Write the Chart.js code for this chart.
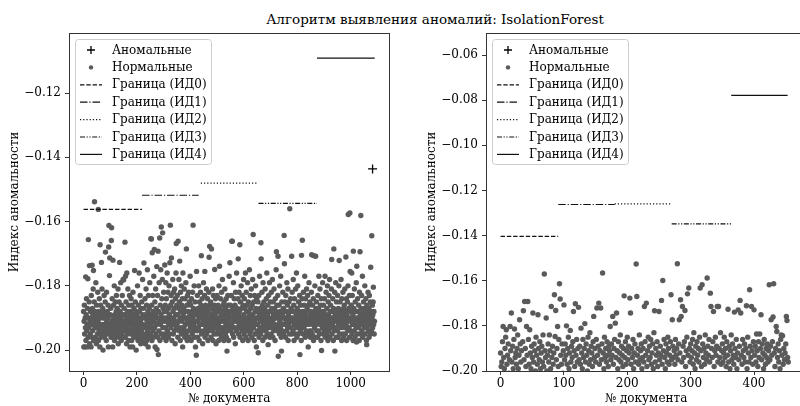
<!DOCTYPE html>
<html>
<head>
<meta charset="utf-8">
<script src="https://cdn.jsdelivr.net/npm/chart.js@4.4.1/dist/chart.umd.min.js"></script>
<style>
  html, body { margin: 0; padding: 0; background: #fff; overflow: hidden; }
  #wrap { position: relative; width: 800px; height: 406px; overflow: hidden; }
  #fig { position: absolute; left: 0; top: 0; width: 870px; height: 406px; }
  #title { position: absolute; left: 0; top: 11px; width: 870px; text-align: center;
           font-family: 'DejaVu Serif'; font-size: 13.5px; line-height: 16px; color: #000; }
  #leftBox { position: absolute; left: 0; top: 0; }
  #rightBox { position: absolute; left: 400px; top: 0; }
</style>
</head>
<body>
<div id="wrap"><div id="fig">
  <div id="title">Алгоритм выявления аномалий: IsolationForest</div>
  <div id="leftBox"><canvas id="leftChart" width="400" height="406"></canvas></div>
  <div id="rightBox"><canvas id="rightChart" width="470" height="406"></canvas></div>
</div></div>
<script>
// --- data: left panel (document index = position in the array) ---
const leftScores = [
-0.188,-0.199,-0.191,-0.186,-0.195,-0.199,-0.190,-0.193,-0.1772,-0.197,-0.189,-0.184,-0.194,-0.192,-0.199,-0.187,-0.1778,-0.196,-0.1656,-0.190,-0.193,-0.185,-0.1737,-0.198,-0.191,
-0.195,-0.188,-0.192,-0.199,-0.183,-0.190,-0.196,-0.1736,-0.187,-0.194,-0.189,-0.181,-0.1752,-0.197,-0.191,-0.185,-0.1538,-0.193,-0.188,-0.196,-0.192,-0.179,-0.190,-0.198,-0.186,
-0.193,-0.189,-0.195,-0.182,-0.191,-0.1562,-0.197,-0.188,-0.194,-0.184,-0.190,-0.199,-0.1672,-0.192,-0.186,-0.196,-0.189,-0.1727,-0.193,-0.181,-0.195,-0.190,-0.187,-0.200,-0.192,
-0.188,-0.194,-0.183,-0.196,-0.190,-0.192,-0.185,-0.1695,-0.193,-0.189,-0.197,-0.182,-0.191,-0.195,-0.188,-0.194,-0.190,-0.186,-0.199,-0.1679,-0.1612,-0.192,-0.1768,-0.1713,-0.195,
-0.189,-0.193,-0.187,-0.196,-0.1659,-0.1619,-0.191,-0.184,-0.194,-0.199,-0.1720,-0.190,-0.186,-0.195,-0.192,-0.180,-0.197,-0.189,-0.193,-0.185,-0.191,-0.196,-0.188,-0.183,-0.194,
-0.190,-0.187,-0.195,-0.192,-0.181,-0.198,-0.189,-0.193,-0.185,-0.196,-0.1727,-0.191,-0.188,-0.194,-0.179,-0.190,-0.197,-0.186,-0.192,-0.195,-0.183,-0.189,-0.193,-0.178,-0.196,
-0.1782,-0.191,-0.187,-0.194,-0.189,-0.1664,-0.196,-0.177,-0.192,-0.185,-0.190,-0.198,-0.176,-0.193,-0.188,-0.195,-0.181,-0.191,-0.197,-0.186,-0.190,-0.194,-0.183,-0.189,-0.199,
-0.192,-0.188,-0.195,-0.184,-0.191,-0.197,-0.186,-0.193,-0.190,-0.199,-0.182,-0.194,-0.189,-0.196,-0.187,-0.192,-0.1752,-0.190,-0.195,-0.185,-0.193,-0.188,-0.200,-0.191,-0.196,
-0.189,-0.194,-0.180,-0.192,-0.197,-0.186,-0.190,-0.195,-0.176,-0.193,-0.188,-0.196,-0.183,-0.191,-0.198,-0.187,-0.194,-0.190,-0.185,-0.197,-0.192,-0.178,-0.189,-0.195,-0.193,
-0.187,-0.1729,-0.196,-0.190,-0.193,-0.184,-0.198,-0.189,-0.195,-0.181,-0.192,-0.186,-0.197,-0.191,-0.175,-0.194,-0.188,-0.199,-0.183,-0.190,-0.196,-0.187,-0.193,-0.179,-0.191,
-0.195,-0.189,-0.1653,-0.192,-0.1654,-0.186,-0.197,-0.1697,-0.190,-0.183,-0.194,-0.188,-0.196,-0.177,-0.191,-0.1687,-0.193,-0.185,-0.199,-0.189,-0.181,-0.195,-0.187,-0.192,-0.174,
-0.1998,-0.190,-0.183,-0.196,-0.1692,-0.2014,-0.188,-0.194,-0.179,-0.191,-0.1651,-0.197,-0.186,-0.192,-0.175,-0.189,-0.1617,-0.195,-0.184,-0.190,-0.178,-0.1635,-0.193,-0.187,-0.196,
-0.182,-0.191,-0.188,-0.195,-0.1735,-0.190,-0.186,-0.193,-0.179,-0.197,-0.184,-0.191,-0.188,-0.176,-0.194,-0.190,-0.182,-0.196,-0.187,-0.192,-0.180,-0.189,-0.195,-0.1728,-0.191,
-0.1611,-0.186,-0.193,-0.183,-0.1713,-0.190,-0.197,-0.185,-0.192,-0.178,-0.188,-0.195,-0.182,-0.190,-0.187,-0.194,-0.181,-0.191,-0.198,-0.184,-0.189,-0.176,-0.1668,-0.193,-0.186,
-0.192,-0.183,-0.189,-0.196,-0.1661,-0.187,-0.191,-0.178,-0.194,-0.185,-0.1723,-0.190,-0.197,-0.182,-0.188,-0.193,-0.180,-0.195,-0.186,-0.191,-0.184,-0.199,-0.1760,-0.189,-0.194,
-0.187,-0.193,-0.181,-0.190,-0.196,-0.184,-0.192,-0.188,-0.179,-0.195,-0.1685,-0.190,-0.186,-0.197,-0.183,-0.191,-0.188,-0.194,-0.182,-0.190,-0.196,-0.185,-0.192,-0.189,-0.177,
-0.193,-0.186,-0.190,-0.197,-0.184,-0.191,-0.188,-0.195,-0.182,-0.190,-0.1611,-0.194,-0.187,-0.192,-0.180,-0.196,-0.189,-0.185,-0.193,-0.199,-0.188,-0.191,-0.2016,-0.1755,-0.194,
-0.189,-0.183,-0.196,-0.191,-0.187,-0.193,-0.180,-0.190,-0.197,-0.185,-0.192,-0.188,-0.194,-0.182,-0.190,-0.186,-0.1706,-0.195,-0.189,-0.184,-0.192,-0.198,-0.187,-0.191,-0.179,
-0.194,-0.188,-0.190,-0.183,-0.1755,-0.196,-0.191,-0.186,-0.193,-0.189,-0.181,-0.195,-0.187,-0.192,-0.184,-0.190,-0.197,-0.188,-0.194,-0.182,-0.1711,-0.191,-0.1677,-0.186,-0.193,
-0.190,-0.185,-0.196,-0.189,-0.1685,-0.192,-0.187,-0.194,-0.181,-0.190,-0.197,-0.183,-0.191,-0.188,-0.195,-0.186,-0.1749,-0.193,-0.189,-0.184,-0.192,-0.198,-0.187,-0.190,-0.195,
-0.183,-0.191,-0.188,-0.194,-0.186,-0.192,-0.197,-0.180,-0.190,-0.1739,-0.193,-0.187,-0.195,-0.184,-0.191,-0.189,-0.196,-0.182,-0.190,-0.193,-0.178,-0.188,-0.194,-0.186,-0.191,
-0.197,-0.185,-0.190,-0.193,-0.181,-0.189,-0.195,-0.187,-0.192,-0.184,-0.196,-0.190,-0.2003,-0.188,-0.194,-0.183,-0.191,-0.186,-0.197,-0.189,-0.177,-0.193,-0.188,-0.1728,-0.192,
-0.186,-0.194,-0.190,-0.183,-0.192,-0.1661,-0.188,-0.1661,-0.195,-0.187,-0.191,-0.179,-0.196,-0.189,-0.184,-0.193,-0.190,-0.186,-0.198,-0.182,-0.191,-0.188,-0.194,-0.176,-0.190,
-0.193,-0.187,-0.191,-0.184,-0.1716,-0.195,-0.189,-0.182,-0.192,-0.188,-0.1672,-0.196,-0.185,-0.190,-0.193,-0.180,-0.191,-0.187,-0.194,-0.183,-0.190,-0.197,-0.186,-0.192,-0.178,
-0.189,-0.195,-0.184,-0.191,-0.187,-0.193,-0.176,-0.190,-0.196,-0.182,-0.188,-0.194,-0.186,-0.192,-0.179,-0.190,-0.197,-0.185,-0.191,-0.188,-0.193,-0.175,-0.189,-0.195,-0.183,
-0.191,-0.187,-0.194,-0.181,-0.190,-0.196,-0.186,-0.192,-0.178,-0.189,-0.1640,-0.193,-0.185,-0.190,-0.197,-0.183,-0.191,-0.188,-0.195,-0.180,-0.192,-0.187,-0.199,-0.184,-0.190,
-0.194,-0.188,-0.192,-0.185,-0.2008,-0.190,-0.183,-0.196,-0.189,-0.177,-0.193,-0.187,-0.191,-0.195,-0.1666,-0.1716,-0.188,-0.194,-0.182,-0.190,-0.186,-0.197,-0.179,-0.192,-0.189,
-0.185,-0.193,-0.190,-0.187,-0.196,-0.181,-0.191,-0.188,-0.194,-0.184,-0.190,-0.176,-0.195,-0.189,-0.192,-0.186,-0.1983,-0.190,-0.183,-0.193,-0.188,-0.179,-0.196,-0.191,-0.185,
-0.192,-0.188,-0.195,-0.182,-0.190,-0.187,-0.193,-0.178,-0.191,-0.196,-0.185,-0.189,-0.194,-0.181,-0.190,-0.187,-0.192,-0.197,-0.184,-0.190,-0.188,-0.175,-0.1694,-0.193,-0.186,
-0.190,-0.194,-0.183,-0.1708,-0.2019,-0.189,-0.192,-0.186,-0.195,-0.180,-0.191,-0.188,-0.193,-0.177,-0.190,-0.196,-0.2003,-0.185,-0.192,-0.189,-0.194,-0.182,-0.190,-0.187,-0.195,
-0.188,-0.1643,-0.1731,-0.192,-0.185,-0.190,-0.196,-0.183,-0.191,-0.188,-0.194,-0.179,-0.190,-0.186,-0.193,-0.181,-0.197,-0.189,-0.192,-0.185,-0.190,-0.195,-0.1560,-0.188,-0.191,
-0.184,-0.193,-0.187,-0.190,-0.1708,-0.195,-0.182,-0.191,-0.188,-0.194,-0.178,-0.190,-0.186,-0.197,-0.192,-0.184,-0.190,-0.188,-0.195,-0.181,-0.193,-0.189,-0.176,-0.191,-0.196,
-0.187,-0.192,-0.180,-0.190,-0.195,-0.185,-0.191,-0.188,-0.193,-0.183,-0.2014,-0.189,-0.194,-0.186,-0.191,-0.197,-0.1705,-0.190,-0.184,-0.1658,-0.192,-0.188,-0.195,-0.182,-0.190,
-0.193,-0.186,-0.191,-0.177,-0.189,-0.196,-0.184,-0.192,-0.188,-0.194,-0.181,-0.190,-0.187,-0.195,-0.183,-0.191,-0.199,-0.186,-0.192,-0.179,-0.190,-0.194,-0.185,-0.189,-0.196,
-0.191,-0.188,-0.194,-0.182,-0.1703,-0.190,-0.195,-0.186,-0.192,-0.189,-0.184,-0.197,-0.1706,-0.191,-0.188,-0.193,-0.180,-0.190,-0.196,-0.1708,-0.187,-0.192,-0.185,-0.194,-0.189,
-0.190,-0.196,-0.183,-0.191,-0.187,-0.194,-0.177,-0.190,-0.188,-0.195,-0.181,-0.192,-0.186,-0.189,-0.197,-0.184,-0.2001,-0.191,-0.188,-0.193,-0.179,-0.190,-0.195,-0.186,-0.192,
-0.188,-0.194,-0.184,-0.190,-0.177,-0.196,-0.189,-0.192,-0.182,-0.191,-0.195,-0.187,-0.193,-0.180,-0.190,-0.197,-0.185,-0.189,-0.194,-0.183,-0.191,-0.178,-0.196,-0.188,-0.192,
-0.186,-0.193,-0.190,-0.181,-0.1718,-0.195,-0.188,-0.192,-0.184,-0.190,-0.197,-0.187,-0.1685,-0.191,-0.194,-0.182,-0.2003,-0.189,-0.193,-0.179,-0.190,-0.196,-0.185,-0.191,-0.188,
-0.194,-0.183,-0.190,-0.196,-0.187,-0.192,-0.180,-0.1721,-0.189,-0.195,-0.185,-0.191,-0.188,-0.193,-0.178,-0.190,-0.197,-0.184,-0.192,-0.189,-0.195,-0.182,-0.191,-0.187,-0.196,
-0.190,-0.186,-0.193,-0.181,-0.190,-0.195,-0.188,-0.1710,-0.192,-0.184,-0.197,-0.189,-0.191,-0.185,-0.194,-0.180,-0.1578,-0.190,-0.187,-0.193,-0.183,-0.196,-0.1573,-0.1755,-0.191,
-0.188,-0.194,-0.186,-0.190,-0.1760,-0.195,-0.183,-0.192,-0.189,-0.197,-0.1692,-0.191,-0.187,-0.194,-0.181,-0.190,-0.196,-0.185,-0.192,-0.188,-0.193,-0.179,-0.1975,-0.1739,-0.190,
-0.195,-0.184,-0.191,-0.188,-0.193,-0.186,-0.190,-0.197,-0.182,-0.192,-0.1694,-0.189,-0.195,-0.1581,-0.187,-0.191,-0.183,-0.194,-0.190,-0.177,-0.196,-0.188,-0.192,-0.185,-0.190,
-0.193,-0.187,-0.191,-0.180,-0.195,-0.189,-0.192,-0.184,-0.190,-0.197,-0.1983,-0.186,-0.193,-0.188,-0.191,-0.182,-0.194,-0.190,-0.187,-0.196,-0.183,-0.192,-0.189,-0.195,-0.185,
-0.1742,-0.191,-0.188,-0.194,-0.1644,-0.190,-0.186,-0.193,-0.189,-0.185,-0.1804,-0.192,-0.188,-0.195,-0.191
];
const leftAnomalyDocs = [1082];
const leftAnomalyScores = [-0.1436];
const leftBoundStart = [0, 219, 439, 655, 874];
const leftBoundEnd = [219, 431, 651, 874, 1090];
const leftBoundLevel = [-0.1562, -0.1518, -0.1480, -0.1543, -0.1091];
const leftXTicks = [0, 200, 400, 600, 800, 1000];
const leftYTicks = [-0.20, -0.18, -0.16, -0.14, -0.12];

// --- data: right panel ---
const rightScores = [
-0.192,-0.198,-0.196,-0.187,-0.1803,-0.194,-0.199,-0.190,-0.185,-0.1817,-0.197,-0.193,-0.188,-0.201,-0.195,-0.1803,-0.191,-0.1743,-0.196,-0.189,-0.199,-0.186,-0.1814,-0.194,-0.192,
-0.197,-0.190,-0.184,-0.199,-0.193,-0.1773,-0.188,-0.196,-0.191,-0.202,-0.187,-0.1733,-0.195,-0.1692,-0.190,-0.198,-0.1803,-0.193,-0.1692,-0.186,-0.197,-0.1817,-0.192,-0.199,-0.189,
-0.194,-0.1743,-0.196,-0.188,-0.191,-0.200,-0.185,-0.193,-0.197,-0.1751,-0.190,-0.195,-0.187,-0.199,-0.192,-0.189,-0.196,-0.184,-0.198,-0.1570,-0.191,-0.194,-0.1765,-0.200,-0.193,
-0.188,-0.196,-0.1840,-0.191,-0.199,-0.1714,-0.194,-0.189,-0.197,-0.192,-0.1662,-0.1847,-0.1732,-0.195,-0.190,-0.1803,-0.198,-0.186,-0.1613,-0.1681,-0.193,-0.197,-0.188,-0.201,-0.191,
-0.1707,-0.195,-0.188,-0.193,-0.180,-0.197,-0.190,-0.185,-0.199,-0.192,-0.182,-0.196,-0.189,-0.194,-0.187,-0.1736,-0.191,-0.198,-0.1702,-0.193,-0.186,-0.196,-0.190,-0.1718,-0.195,
-0.189,-0.197,-0.181,-0.192,-0.199,-0.186,-0.194,-0.190,-0.179,-0.196,-0.188,-0.193,-0.200,-0.185,-0.191,-0.197,-0.183,-0.195,-0.189,-0.192,-0.198,-0.187,-0.1758,-0.194,-0.190,
-0.196,-0.186,-0.1721,-0.193,-0.189,-0.1699,-0.197,-0.191,-0.1721,-0.195,-0.188,-0.1566,-0.192,-0.199,-0.185,-0.194,-0.190,-0.196,-0.187,-0.193,-0.198,-0.189,-0.191,-0.1803,-0.195,
-0.188,-0.193,-0.1758,-0.197,-0.190,-0.186,-0.1788,-0.194,-0.1743,-0.191,-0.199,-0.187,-0.195,-0.192,-0.184,-0.196,-0.189,-0.193,-0.198,-0.190,-0.1667,-0.194,-0.187,-0.197,-0.191,
-0.185,-0.195,-0.189,-0.192,-0.1677,-0.1743,-0.197,-0.190,-0.194,-0.186,-0.199,-0.192,-0.188,-0.196,-0.1526,-0.1670,-0.193,-0.190,-0.197,-0.184,-0.195,-0.191,-0.188,-0.199,-0.194,
-0.190,-0.196,-0.1714,-0.187,-0.193,-0.1699,-0.198,-0.191,-0.185,-0.195,-0.189,-0.194,-0.186,-0.197,-0.192,-0.188,-0.199,-0.183,-0.1733,-0.196,-0.190,-0.193,-0.187,-0.198,-0.192,
-0.1736,-0.195,-0.189,-0.193,-0.1687,-0.197,-0.1599,-0.191,-0.186,-0.194,-0.199,-0.188,-0.192,-0.196,-0.185,-0.190,-0.197,-0.193,-0.187,-0.1662,-0.195,-0.1773,-0.189,-0.194,-0.191,
-0.197,-0.186,-0.193,-0.190,-0.1525,-0.195,-0.188,-0.1773,-0.192,-0.1684,-0.1758,-0.196,-0.1714,-0.189,-0.194,-0.187,-0.1732,-0.198,-0.191,-0.185,-0.1658,-0.193,-0.1632,-0.190,-0.196,
-0.188,-0.194,-0.191,-0.186,-0.197,-0.183,-0.192,-0.199,-0.189,-0.195,-0.187,-0.193,-0.190,-0.196,-0.185,-0.1632,-0.191,-0.198,-0.1618,-0.188,-0.194,-0.190,-0.197,-0.184,-0.192,
-0.195,-0.1588,-0.189,-0.193,-0.186,-0.196,-0.1655,-0.1714,-0.190,-0.194,-0.187,-0.1736,-0.198,-0.191,-0.185,-0.193,-0.189,-0.1714,-0.196,-0.1714,-0.190,-0.194,-0.183,-0.197,-0.191,
-0.188,-0.196,-0.192,-0.185,-0.194,-0.190,-0.198,-0.187,-0.193,-0.1726,-0.196,-0.189,-0.199,-0.191,-0.184,-0.195,-0.188,-0.193,-0.197,-0.1739,-0.190,-0.194,-0.186,-0.199,-0.192,
-0.1729,-0.195,-0.189,-0.1687,-0.1743,-0.193,-0.197,-0.186,-0.191,-0.194,-0.188,-0.196,-0.190,-0.1711,-0.199,-0.185,-0.192,-0.196,-0.1640,-0.189,-0.194,-0.1714,-0.191,-0.197,-0.187,
-0.1729,-0.193,-0.189,-0.196,-0.1836,-0.191,-0.198,-0.187,-0.194,-0.1836,-0.190,-0.1751,-0.195,-0.188,-0.192,-0.199,-0.186,-0.193,-0.197,-0.190,-0.194,-0.188,-0.196,-0.191,-0.1618,
-0.195,-0.189,-0.1773,-0.193,-0.187,-0.1761,-0.1613,-0.192,-0.198,-0.190,-0.1803,-0.1825,-0.194,-0.188,-0.196,-0.191,-0.199,-0.186,-0.1840,-0.193,-0.1844,-0.197,-0.190,-0.195,-0.192,
-0.188,-0.1758,-0.1776,-0.194,-0.196
];
const rightAnomalyDocs = [];
const rightAnomalyScores = [];
const rightBoundStart = [0, 91, 180, 270, 364];
const rightBoundEnd = [91, 180, 270, 364, 453];
const rightBoundLevel = [-0.1403, -0.1262, -0.1259, -0.1348, -0.0778];
const rightXTicks = [0, 100, 200, 300, 400];
const rightYTicks = [-0.20, -0.18, -0.16, -0.14, -0.12, -0.10, -0.08, -0.06];

const legendLabels = ['Аномальные', 'Нормальные', 'Граница (ИД0)', 'Граница (ИД1)',
                      'Граница (ИД2)', 'Граница (ИД3)', 'Граница (ИД4)'];
const boundDashes = [[4.4, 1.9], [7.5, 1.9, 1.2, 1.9], [1.2, 2], [5, 1.6, 1.2, 1.6, 1.2, 1.6], []];

const FONT = 'DejaVu Serif';
const FONT_SIZE = 12;
const DOT = '#5a5a5a';
const INK = '#111';

Chart.defaults.font.family = FONT;
Chart.defaults.font.size = FONT_SIZE;
Chart.defaults.color = '#000';

const fmtMinus = v => (v < 0 ? '\u2212' : '') + Math.abs(v).toFixed(2);

// axes frame (top + right spines too, like matplotlib)
const framePlugin = {
  id: 'frame',
  afterDatasetsDraw(chart) {
    const { ctx, chartArea: a } = chart;
    ctx.save();
    ctx.strokeStyle = '#333';
    ctx.lineWidth = 1;
    ctx.strokeRect(Math.round(a.left) + 0.5, Math.round(a.top) + 0.5,
                   Math.round(a.right - a.left), Math.round(a.bottom - a.top));
    ctx.restore();
  }
};

// matplotlib style legend box in the upper left corner
const boxLegend = {
  id: 'boxLegend',
  afterDraw(chart) {
    const { ctx, chartArea: a } = chart;
    const x0 = a.left + 6, y0 = a.top + 6, w = 136, h = 125;
    ctx.save();
    ctx.beginPath();
    if (ctx.roundRect) ctx.roundRect(x0 + 0.5, y0 + 0.5, w, h, 3);
    else ctx.rect(x0 + 0.5, y0 + 0.5, w, h);
    ctx.fillStyle = 'rgba(255,255,255,0.8)';
    ctx.fill();
    ctx.strokeStyle = '#cccccc';
    ctx.lineWidth = 1;
    ctx.stroke();

    ctx.font = FONT_SIZE + 'px "' + FONT + '"';
    ctx.textBaseline = 'middle';
    ctx.textAlign = 'left';
    legendLabels.forEach((label, k) => {
      const cy = y0 + 11 + k * 17.4;
      const hx0 = x0 + 5, hx1 = x0 + 27, hc = x0 + 16;
      if (k === 0) {
        ctx.strokeStyle = '#000';
        ctx.lineWidth = 1.3;
        ctx.setLineDash([]);
        ctx.beginPath();
        ctx.moveTo(hc - 4, cy); ctx.lineTo(hc + 4, cy);
        ctx.moveTo(hc, cy - 4); ctx.lineTo(hc, cy + 4);
        ctx.stroke();
      } else if (k === 1) {
        ctx.fillStyle = DOT;
        ctx.beginPath();
        ctx.arc(hc, cy, 2.2, 0, Math.PI * 2);
        ctx.fill();
      } else {
        ctx.strokeStyle = INK;
        ctx.lineWidth = 1.2;
        ctx.setLineDash(boundDashes[k - 2]);
        ctx.beginPath();
        ctx.moveTo(hx0, cy); ctx.lineTo(hx1, cy);
        ctx.stroke();
        ctx.setLineDash([]);
      }
      ctx.fillStyle = '#000';
      ctx.fillText(label, x0 + 37, cy + 0.5);
    });
    ctx.restore();
  }
};

function buildPanel(canvasId, p) {
  const datasets = [];
  p.boundStart.forEach((s, k) => {
    datasets.push({
      label: legendLabels[k + 2],
      data: [{ x: s, y: p.boundLevel[k] }, { x: p.boundEnd[k], y: p.boundLevel[k] }],
      showLine: true,
      borderColor: INK,
      borderWidth: 1.2,
      borderDash: boundDashes[k],
      pointRadius: 0,
      order: 0,
      clip: 0
    });
  });
  datasets.push({
    label: legendLabels[0],
    data: p.anomalyDocs.map((d, i) => ({ x: d, y: p.anomalyScores[i] })),
    pointStyle: 'cross',
    pointRadius: 4.5,
    borderColor: '#000',
    borderWidth: 1.3,
    order: 1,
    clip: 0
  });
  datasets.push({
    label: legendLabels[1],
    data: p.scores.map((v, i) => ({ x: i, y: v })),
    pointRadius: 2.7,
    backgroundColor: DOT,
    borderWidth: 0,
    order: 2,
    clip: 0
  });

  return new Chart(document.getElementById(canvasId), {
    type: 'scatter',
    data: { datasets },
    plugins: [framePlugin, boxLegend],
    options: {
      responsive: false,
      animation: false,
      events: [],
      layout: { padding: { top: 33, left: p.padLeft, right: p.padRight, bottom: 0 } },
      plugins: { legend: { display: false }, tooltip: { enabled: false } },
      scales: {
        x: {
          type: 'linear',
          min: p.xMin,
          max: p.xMax,
          afterBuildTicks: ax => { ax.ticks = p.xTicks.map(v => ({ value: v })); },
          afterFit: sc => { sc.height = 35; },
          grid: { drawOnChartArea: false, drawTicks: true, tickLength: 4, tickColor: '#333', tickWidth: 1 },
          border: { display: true, color: '#333', width: 1 },
          ticks: { padding: 2, maxRotation: 0, autoSkip: false, callback: v => String(v) },
          title: { display: true, text: '№ документа', padding: { top: 0, bottom: 0 } }
        },
        y: {
          type: 'linear',
          min: p.yMin,
          max: p.yMax,
          afterBuildTicks: ax => { ax.ticks = p.yTicks.map(v => ({ value: v })); },
          afterFit: sc => { sc.width = 69; },
          grid: { drawOnChartArea: false, drawTicks: true, tickLength: 4, tickColor: '#333', tickWidth: 1 },
          border: { display: true, color: '#333', width: 1 },
          ticks: { padding: 4, autoSkip: false, callback: fmtMinus },
          title: { display: true, text: 'Индекс аномальности', padding: { top: 8, bottom: 0 } }
        }
      }
    }
  });
}

buildPanel('leftChart', {
  scores: leftScores, anomalyDocs: leftAnomalyDocs, anomalyScores: leftAnomalyScores,
  boundStart: leftBoundStart, boundEnd: leftBoundEnd, boundLevel: leftBoundLevel,
  xTicks: leftXTicks, yTicks: leftYTicks,
  xMin: -54.5, xMax: 1143.5, yMin: -0.2065, yMax: -0.1013,
  padLeft: 0, padRight: 11
});

buildPanel('rightChart', {
  scores: rightScores, anomalyDocs: rightAnomalyDocs, anomalyScores: rightAnomalyScores,
  boundStart: rightBoundStart, boundEnd: rightBoundEnd, boundLevel: rightBoundLevel,
  xTicks: rightXTicks, yTicks: rightYTicks,
  xMin: -23, xMax: 482, yMin: -0.2, yMax: -0.0502,
  padLeft: 17, padRight: 64
});
</script>
</body>
</html>
